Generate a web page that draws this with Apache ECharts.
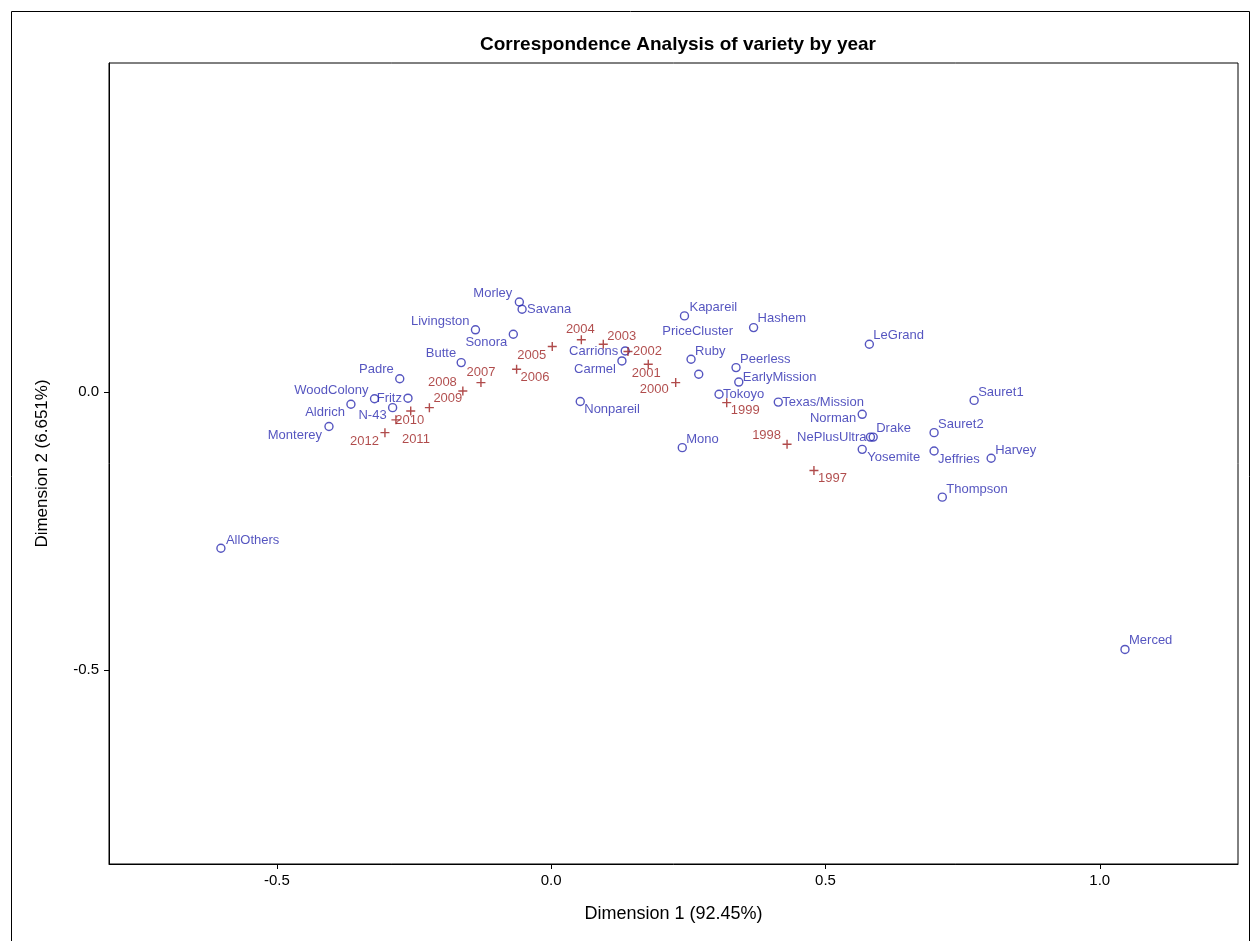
<!DOCTYPE html>
<html>
<head>
<meta charset="utf-8">
<script src="https://cdn.jsdelivr.net/npm/echarts@6/dist/echarts.min.js"></script>
<style>
html,body{margin:0;padding:0;background:#fff;}
#chart{width:1254px;height:941px;}
</style>
</head>
<body>
<div id="chart"></div>
<script>
// ---- Data ----
const varietyNames = ["Morley","Savana","Livingston","Sonora","Butte","Padre","WoodColony","Fritz","Aldrich","N-43","Monterey",
  "Carrions","Carmel","Nonpareil","Kapareil","PriceCluster","Ruby","Peerless","EarlyMission","Tokoyo","Texas/Mission","Mono",
  "Hashem","LeGrand","Sauret1","Norman","NePlusUltra","Drake","Yosemite","Sauret2","Jeffries","Harvey","Thompson","AllOthers","Merced"];
const varietyDim1 = [-0.058,-0.053,-0.138,-0.069,-0.164,-0.276,-0.322,-0.261,-0.365,-0.289,-0.405,
  0.135,0.129,0.053,0.243,0.269,0.255,0.337,0.342,0.306,0.414,0.239,
  0.369,0.580,0.771,0.567,0.582,0.587,0.567,0.698,0.698,0.802,0.713,-0.602,1.046];
const varietyDim2 = [0.162,0.149,0.112,0.104,0.053,0.024,-0.012,-0.011,-0.022,-0.028,-0.062,
  0.074,0.056,-0.017,0.137,0.032,0.059,0.044,0.018,-0.004,-0.018,-0.100,
  0.116,0.086,-0.015,-0.040,-0.081,-0.081,-0.103,-0.073,-0.106,-0.119,-0.189,-0.281,-0.463];

const yearNames = ["1997","1998","1999","2000","2001","2002","2003","2004","2005","2006","2007","2008","2009","2010","2011","2012"];
const yearDim1 = [0.479,0.430,0.320,0.227,0.177,0.140,0.095,0.055,0.002,-0.063,-0.128,-0.161,-0.222,-0.256,-0.283,-0.303];
const yearDim2 = [-0.141,-0.094,-0.019,0.017,0.050,0.073,0.086,0.094,0.082,0.041,0.017,0.002,-0.028,-0.034,-0.050,-0.073];

const xTicks = [-0.5, 0.0, 0.5, 1.0];
const yTicks = [-0.5, 0.0];

// ---- Label placement (style only: align, dx, dy in px) ----
const varietyLabelPlace = [["right",-7,-9],["left",5,0],["right",-6,-8],["right",-6,8],["right",-5,-9],["right",-6,-9],["right",-6,-8],["right",-6,0],["right",-6,8],["right",-6,8],["right",-7,9],
  ["right",-7,0],["right",-6,8],["left",4,8],["left",5,-8],["center",-1,-43],["left",4,-8],["left",4,-8],["left",4,-5],["left",4,0],["left",4,0],["left",4,-8],
  ["left",4,-9],["left",4,-9],["left",4,-8],["right",-6,4],["right",-4,0],["left",3,-9],["left",5,8],["left",4,-8],["left",4,8],["left",4,-8],["left",4,-8],["left",5,-8],["left",4,-9]];
const yearLabelPlace = [["left",4,8],["right",-6,-9],["left",4,8],["right",-7,7],["center",-2,9],["left",5,0],["left",4,-8],["center",-1,-10],
  ["right",-6,9],["left",4,8],["center",0,-10],["right",-6,-9],["left",4,-9],["center",-1,9],["left",6,20],["right",-6,9]];

const BLUE = '#2a2ab0';
const RED = '#9c1e1e';
const FONT = 'Liberation Sans, Arial, sans-serif';

function buildData(names, d1, d2, place, color) {
  return names.map((n, i) => ({
    name: n,
    value: [d1[i], d2[i]],
    label: {
      show: true,
      position: 'inside',
      formatter: n,
      align: place[i][0],
      verticalAlign: 'middle',
      offset: [place[i][1], place[i][2]],
      color: color,
      fontSize: 13,
      fontFamily: FONT
    }
  }));
}

const chart = echarts.init(document.getElementById('chart'), null, {renderer: 'canvas'});
const fmt = v => (Math.abs(v) < 1e-9 ? 0 : v).toFixed(1);

chart.setOption({
  backgroundColor: '#fff',
  animation: false,
  title: {
    text: 'Correspondence Analysis of variety by year',
    left: 673, top: 30, textAlign: 'center',
    textStyle: {fontSize: 19, fontWeight: 'bold', color: '#000', fontFamily: FONT}
  },
  graphic: [{
    type: 'rect', silent: true, z: -1,
    shape: {x: 11.5, y: 11.5, width: 1238, height: 1000},
    style: {fill: 'none', stroke: '#000', lineWidth: 1}
  }],
  grid: {left: 109, right: 16, top: 63, bottom: 77, show: true, borderColor: '#000', borderWidth: 1, containLabel: false},
  xAxis: {
    type: 'value', min: -0.806, max: 1.252,
    name: 'Dimension 1 (92.45%)', nameLocation: 'middle', nameGap: 41,
    nameTextStyle: {fontSize: 18, color: '#000', fontFamily: FONT},
    axisLine: {show: true, onZero: false, lineStyle: {color: '#000', width: 1}},
    axisTick: {show: true, length: 5, lineStyle: {color: '#000'}, customValues: xTicks},
    axisLabel: {show: true, margin: 9, fontSize: 15, color: '#000', fontFamily: FONT, customValues: xTicks, formatter: fmt},
    splitLine: {show: false}
  },
  yAxis: {
    type: 'value', min: -0.849, max: 0.592,
    name: 'Dimension 2 (6.651%)', nameLocation: 'middle', nameGap: 58, nameRotate: 90,
    nameTextStyle: {fontSize: 17, color: '#000', fontFamily: FONT},
    axisLine: {show: true, onZero: false, lineStyle: {color: '#000', width: 1}},
    axisTick: {show: true, length: 5, lineStyle: {color: '#000'}, customValues: yTicks},
    axisLabel: {show: true, margin: 10, fontSize: 15, color: '#000', fontFamily: FONT, customValues: yTicks, formatter: fmt},
    splitLine: {show: false}
  },
  series: [
    {
      type: 'scatter', name: 'variety',
      symbol: 'circle', symbolSize: 8,
      itemStyle: {color: 'rgba(0,0,0,0)', borderColor: BLUE, borderWidth: 1.4},
      emphasis: {disabled: true},
      data: buildData(varietyNames, varietyDim1, varietyDim2, varietyLabelPlace, BLUE)
    },
    {
      type: 'scatter', name: 'year',
      symbol: 'path://M0,-1L0,1M-1,0L1,0', symbolSize: 9,
      itemStyle: {color: 'none', borderColor: RED, borderWidth: 1.4},
      emphasis: {disabled: true},
      data: buildData(yearNames, yearDim1, yearDim2, yearLabelPlace, RED)
    }
  ]
});
</script>
</body>
</html>
